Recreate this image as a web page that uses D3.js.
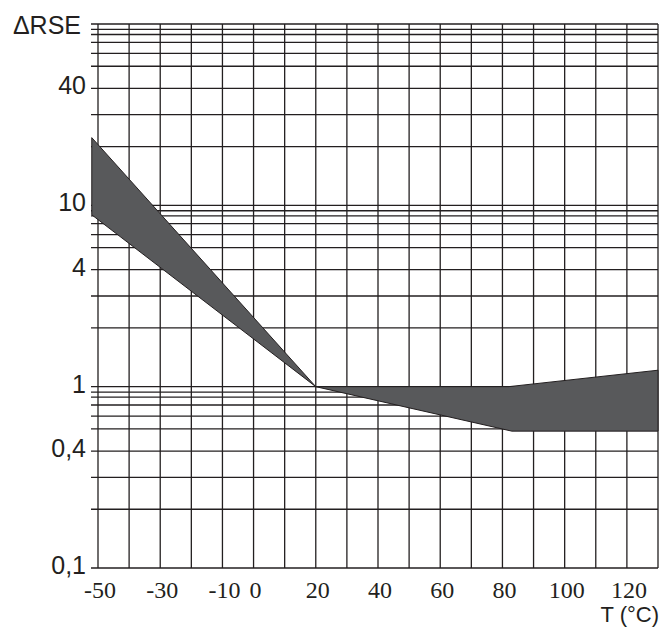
<!DOCTYPE html>
<html>
<head>
<meta charset="utf-8">
<script src="https://cdn.jsdelivr.net/npm/d3@7"></script>
<style>
html,body{margin:0;padding:0;background:#fff;}
svg{display:block;}
</style>
</head>
<body>
<svg id="chart" width="663" height="629"></svg>
<script>
// ---- data ----
const tempTickValues = [-50, -30, -10, 0, 20, 40, 60, 80, 100, 120];
const tempTickLabels = ["-50", "-30", "-10", "0", "20", "40", "60", "80", "100", "120"];
const tempGrid = d3.range(-50, 131, 10);
const rseTickValues = [40, 10, 4, 1, 0.4, 0.1];
const rseTickLabels = ["40", "10", "4", "1", "0,4", "0,1"];
const decades = [0.1, 1, 10];
const mantissas = [1, 2, 3, 4, 5, 6, 7, 8, 9];
// band boundaries
const upperT = [-52, 20, 82, 130];
const upperV = [22.8, 1, 1, 1.28];
const lowerT = [-52, 20, 83, 130];
const lowerV = [8.2, 1, 0.49, 0.49];

// ---- scales ----
const x = d3.scaleLinear().domain([-50, 130]).range([98, 658]);
// the printed log grid is slightly non-uniform inside each decade
const mantissaFrac = d3.scaleLinear()
  .domain([1, 2, 3, 4, 5, 6, 7, 8, 9, 10])
  .range([0, 0.324, 0.5, 0.645, 0.767, 0.838, 0.899, 0.942, 0.97, 1]);
const decadeScale = d3.scaleLinear().domain([-1, 2]).range([568, 24]);
function y(v) {
  const e = Math.floor(Math.log10(v) + 1e-9);
  const m = v / Math.pow(10, e);
  return decadeScale(e + mantissaFrac(m));
}

const svg = d3.select("#chart");
const ink = "#231f20";

// horizontal grid
const hVals = [];
decades.forEach(d => mantissas.forEach(m => hVals.push(+(d * m).toPrecision(6))));
hVals.push(100);
svg.append("g").selectAll("line").data(hVals).join("line")
  .attr("x1", 91).attr("x2", x(130))
  .attr("y1", d => y(d)).attr("y2", d => y(d))
  .attr("stroke", ink).attr("stroke-width", 1.3);

// vertical grid
svg.append("g").selectAll("line").data(tempGrid).join("line")
  .attr("x1", d => x(d)).attr("x2", d => x(d))
  .attr("y1", y(100)).attr("y2", y(0.1))
  .attr("stroke", ink).attr("stroke-width", 1.3);

// band
const pts = upperT.map((t, i) => [x(t), y(upperV[i])])
  .concat(lowerT.map((t, i) => [x(t), y(lowerV[i])]).reverse());
svg.append("path")
  .attr("d", d3.line()(pts) + "Z")
  .attr("fill", "#58595b")
  .attr("stroke", ink).attr("stroke-width", 1)
  .attr("stroke-linejoin", "miter");

// x tick labels
svg.append("g").selectAll("text").data(tempTickValues).join("text")
  .attr("x", d => x(d) + 2).attr("y", 598)
  .attr("text-anchor", "middle")
  .attr("font-family", "'Liberation Serif', 'DejaVu Serif', serif")
  .attr("font-size", 24).attr("fill", ink)
  .text((d, i) => tempTickLabels[i]);

// y tick labels
svg.append("g").selectAll("text").data(rseTickValues).join("text")
  .attr("x", 86).attr("y", d => y(d) + 6)
  .attr("text-anchor", "end")
  .attr("font-family", "'Liberation Sans', Arial, sans-serif")
  .attr("font-size", 25).attr("fill", ink)
  .text((d, i) => rseTickLabels[i]);

// axis titles
svg.append("text").attr("x", 81).attr("y", 34)
  .attr("text-anchor", "end")
  .attr("font-family", "'Liberation Sans', Arial, sans-serif")
  .attr("font-size", 25).attr("fill", ink)
  .text("ΔRSE");
svg.append("text").attr("x", 659).attr("y", 622)
  .attr("text-anchor", "end")
  .attr("font-family", "'Liberation Sans', Arial, sans-serif")
  .attr("font-size", 22).attr("fill", ink)
  .text("T (°C)");
</script>
</body>
</html>
